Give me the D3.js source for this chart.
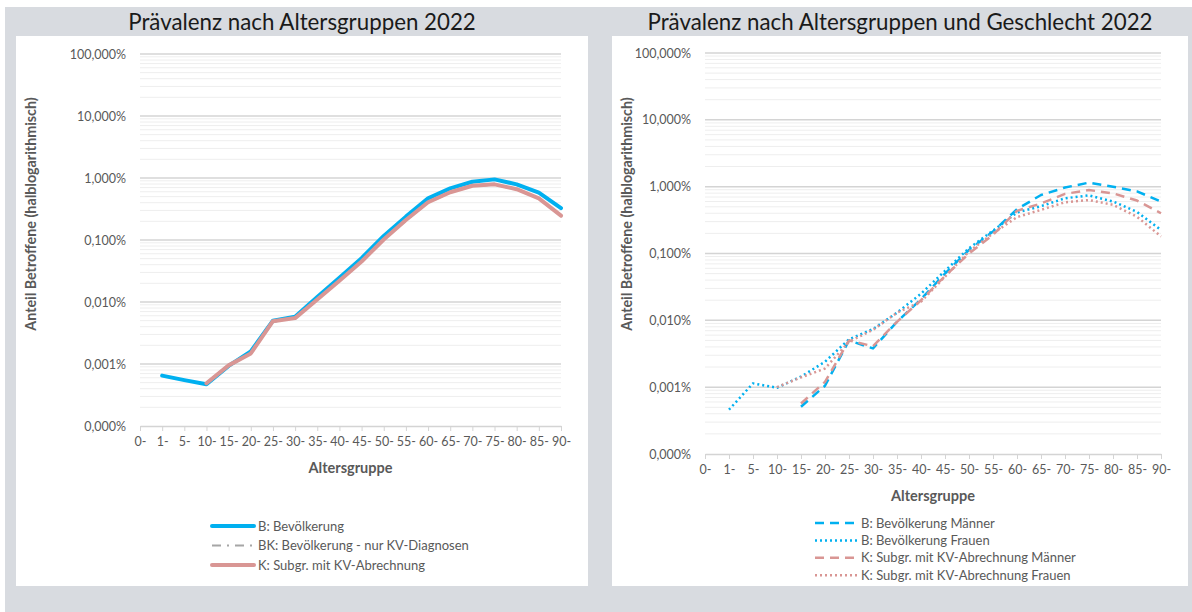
<!DOCTYPE html>
<html>
<head>
<meta charset="utf-8">
<title>Prävalenz nach Altersgruppen</title>
<script src="https://cdn.jsdelivr.net/npm/d3@7"></script>
<style>
  body { margin: 0; background: #fff; font-family: Lato, "Open Sans", sans-serif; }
  .tick text { fill: #595959; }
</style>
</head>
<body>
<script>
// Altersgruppen (x-Kategorien)
var categories = ["0-", "1-", "5-", "10-", "15-", "20-", "25-", "30-", "35-", "40-",
                  "45-", "50-", "55-", "60-", "65-", "70-", "75-", "80-", "85-", "90-"];

// y-Ticks in Prozent (halblogarithmisch)
var yTicks = [0.0001, 0.001, 0.01, 0.1, 1, 10, 100];

// linkes Diagramm, Werte in %
var bevoelkerung = [null, 0.00065, 0.00055, 0.00047, 0.00093, 0.0016, 0.0050, 0.0058, 0.012, 0.0245,
                    0.051, 0.116, 0.238, 0.47, 0.68, 0.87, 0.95, 0.79, 0.58, 0.326];
var bevoelkerungKV = [null, null, null, 0.00048, 0.00094, 0.0015, 0.0048, 0.0054, 0.0108, 0.0218,
                      0.044, 0.100, 0.205, 0.40, 0.58, 0.74, 0.78, 0.65, 0.46, 0.243];
var subgrKV = [null, null, null, 0.00049, 0.00095, 0.00148, 0.0049, 0.0055, 0.011, 0.022,
               0.045, 0.102, 0.21, 0.407, 0.59, 0.75, 0.79, 0.66, 0.47, 0.247];

// rechtes Diagramm, Werte in %
var bevMaenner = [null, null, null, null, 0.00051, 0.00105, 0.0050, 0.0038, 0.0095, 0.0207,
                  0.050, 0.113, 0.213, 0.46, 0.75, 0.97, 1.15, 1.0, 0.85, 0.60];
var bevFrauen = [null, 0.00046, 0.00114, 0.00098, 0.00144, 0.0024, 0.0052, 0.0074, 0.013, 0.025,
                 0.055, 0.12, 0.22, 0.41, 0.51, 0.67, 0.74, 0.60, 0.42, 0.225];
var kvMaenner = [null, null, null, null, 0.00057, 0.0012, 0.0050, 0.0041, 0.0095, 0.0200,
                 0.046, 0.100, 0.19, 0.435, 0.56, 0.78, 0.89, 0.795, 0.62, 0.40];
var kvFrauen = [null, null, null, 0.00100, 0.0014, 0.0019, 0.0048, 0.0072, 0.013, 0.019,
                0.045, 0.107, 0.20, 0.35, 0.45, 0.585, 0.63, 0.535, 0.355, 0.18];

var blue = "#00b0f0", pink = "#d99694", grey = "#a6a6a6";
var W = 1192, H = 612;

var svg = d3.select("body").append("svg")
    .attr("width", W).attr("height", H);

// grauer Hintergrund
svg.append("rect").attr("x", 5).attr("y", 7).attr("width", W - 5).attr("height", H - 7)
    .attr("fill", "#d8dbe0");

var de = d3.formatLocale({ decimal: ",", thousands: ".", grouping: [3], currency: ["", " €"] });
var fmt = de.format(".3f");

var panels = [
    {
        box: [16, 36, 588, 586],
        plot: [140, 54, 561, 426],
        title: "Prävalenz nach Altersgruppen 2022",
        legendX: 212, legendY: 526, legendStep: 19.5,
        series: [
            { name: "B: Bevölkerung", values: bevoelkerung, color: blue, width: 4, dash: null },
            { name: "BK: Bevölkerung - nur KV-Diagnosen", values: bevoelkerungKV, color: grey, width: 2, dash: "9,6,2,6" },
            { name: "K: Subgr. mit KV-Abrechnung", values: subgrKV, color: pink, width: 4, dash: null }
        ]
    },
    {
        box: [612, 36, 1188, 586],
        plot: [705, 53, 1161, 454],
        title: "Prävalenz nach Altersgruppen und Geschlecht 2022",
        legendX: 815, legendY: 523, legendStep: 17.4,
        series: [
            { name: "B: Bevölkerung Männer", values: bevMaenner, color: blue, width: 2.5, dash: "9,6" },
            { name: "B: Bevölkerung Frauen", values: bevFrauen, color: blue, width: 2.5, dash: "2,3" },
            { name: "K: Subgr. mit KV-Abrechnung Männer", values: kvMaenner, color: pink, width: 2.5, dash: "9,6" },
            { name: "K: Subgr. mit KV-Abrechnung Frauen", values: kvFrauen, color: pink, width: 2.5, dash: "2,3" }
        ]
    }
];

panels.forEach(drawPanel);

function drawPanel(p) {
    var g = svg.append("g");
    var b = p.box, pl = p.plot;

    g.append("rect").attr("x", b[0]).attr("y", b[1])
        .attr("width", b[2] - b[0]).attr("height", b[3] - b[1]).attr("fill", "#fff");

    g.append("text")
        .attr("x", (b[0] + b[2]) / 2).attr("y", 30)
        .attr("text-anchor", "middle")
        .style("font-size", "22.3px").style("fill", "#1a1a1a")
        .text(p.title);

    var x = d3.scalePoint().domain(categories).range([pl[0], pl[2]]);
    var y = d3.scaleLog().domain([0.0001, 100]).range([pl[3], pl[1]]);

    // Hilfslinien
    var minor = [];
    yTicks.slice(0, -1).forEach(function (t) {
        for (var k = 2; k <= 9; k++) minor.push(t * k);
    });
    g.selectAll(".minor").data(minor).enter().append("line")
        .attr("x1", pl[0]).attr("x2", pl[2])
        .attr("y1", function (d) { return y(d); }).attr("y2", function (d) { return y(d); })
        .attr("stroke", "#eeeeee").attr("stroke-width", 1);
    g.selectAll(".major").data(yTicks.slice(1)).enter().append("line")
        .attr("x1", pl[0]).attr("x2", pl[2])
        .attr("y1", function (d) { return y(d); }).attr("y2", function (d) { return y(d); })
        .attr("stroke", "#d4d4d4").attr("stroke-width", 1.5);

    // y-Achse
    var yAxis = g.append("g").attr("transform", "translate(" + pl[0] + ",0)")
        .call(d3.axisLeft(y).tickValues(yTicks).tickSize(0).tickPadding(14)
            .tickFormat(function (d) { return fmt(d) + "%"; }));
    yAxis.select(".domain").remove();
    yAxis.selectAll("text").style("font-size", "12.5px").style("font-family", "Lato, sans-serif");

    // x-Achse
    var xAxis = g.append("g").attr("transform", "translate(0," + pl[3] + ")")
        .call(d3.axisBottom(x).tickSize(5).tickSizeOuter(0).tickPadding(6));
    xAxis.select(".domain").attr("stroke", "#d4d4d4").attr("stroke-width", 1.5);
    xAxis.selectAll(".tick line").attr("stroke", "#d4d4d4");
    xAxis.selectAll("text").style("font-size", "12.5px").style("font-family", "Lato, sans-serif");

    // Achsentitel
    g.append("text")
        .attr("x", (pl[0] + pl[2]) / 2).attr("y", pl[3] + 47)
        .attr("text-anchor", "middle")
        .style("font-size", "14.5px").style("font-weight", "bold").style("fill", "#595959")
        .text("Altersgruppe");
    g.append("text")
        .attr("transform", "translate(" + (b[0] + 20) + ",214) rotate(-90)")
        .attr("text-anchor", "middle")
        .style("font-size", "14.3px").style("font-weight", "bold").style("fill", "#595959")
        .text("Anteil Betroffene (halblogarithmisch)");

    // Linien
    var line = d3.line()
        .defined(function (d) { return d != null; })
        .x(function (d, i) { return x(categories[i]); })
        .y(function (d) { return y(d); });

    p.series.forEach(function (s) {
        g.append("path")
            .datum(s.values)
            .attr("d", line)
            .attr("fill", "none")
            .attr("stroke", s.color)
            .attr("stroke-width", s.width)
            .attr("stroke-dasharray", s.dash)
            .attr("stroke-linejoin", "round")
            .attr("stroke-linecap", s.dash ? "butt" : "round");
    });

    // Legende
    var legend = g.selectAll(".legend").data(p.series).enter().append("g")
        .attr("transform", function (d, i) {
            return "translate(" + p.legendX + "," + (p.legendY + i * p.legendStep) + ")";
        });
    legend.append("line")
        .attr("x1", 0).attr("x2", 42).attr("y1", 0).attr("y2", 0)
        .attr("stroke", function (d) { return d.color; })
        .attr("stroke-width", function (d) { return d.width; })
        .attr("stroke-dasharray", function (d) { return d.dash; })
        .attr("stroke-linecap", function (d) { return d.dash ? "butt" : "round"; });
    legend.append("text")
        .attr("x", 46).attr("y", 4.5)
        .style("font-size", "13px").style("fill", "#595959")
        .text(function (d) { return d.name; });
}
</script>
</body>
</html>
